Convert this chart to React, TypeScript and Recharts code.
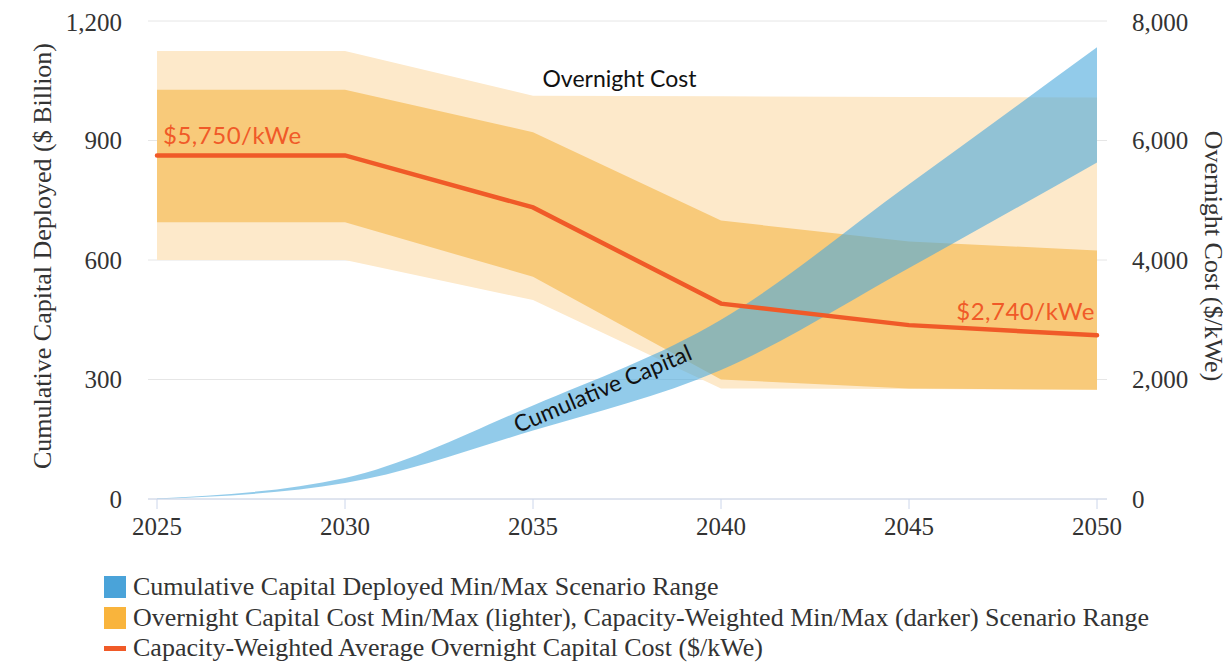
import { Area, CartesianGrid, ComposedChart, Legend, Line, ReferenceDot, XAxis, YAxis } from 'recharts';

const years = [2025, 2030, 2035, 2040, 2045, 2050];
// cumulative capital deployed, $ billion (left axis)
const capitalMin = [0, 40, 172, 324, 580, 845];
const capitalMax = [1, 53, 235, 450, 790, 1134];
// overnight cost, $/kWe (right axis)
const overnightMin = [4000, 4000, 3330, 1850, 1840, 1830];
const overnightMax = [7500, 7500, 6750, 6740, 6730, 6720];
const weightedMin = [4630, 4630, 3720, 2000, 1850, 1830];
const weightedMax = [6850, 6850, 6140, 4660, 4310, 4160];
const weightedAvg = [5750, 5750, 4880, 3270, 2910, 2740];

const capitalTicks = [0, 300, 600, 900, 1200];
const costTicks = [0, 2000, 4000, 6000, 8000];

const legendItems = [
  { label: 'Cumulative Capital Deployed Min/Max Scenario Range', color: '#4aa3d9', kind: 'box' },
  { label: 'Overnight Capital Cost Min/Max (lighter), Capacity-Weighted Min/Max (darker) Scenario Range', color: '#f9b43c', kind: 'box' },
  { label: 'Capacity-Weighted Average Overnight Capital Cost ($/kWe)', color: '#f05a28', kind: 'line' },
];

const data = years.map((year, i) => ({
  year,
  capital: [capitalMin[i], capitalMax[i]],
  overnight: [overnightMin[i], overnightMax[i]],
  weighted: [weightedMin[i], weightedMax[i]],
  avg: weightedAvg[i],
}));

const serif = '"Liberation Serif", "Times New Roman", serif';
const geo = 'Lato, "Noto Sans", sans-serif';
const fmt = (v: number) => v.toLocaleString('en-US');

const renderLegend = () => (
  <div style={{ height: 124, paddingTop: 33, boxSizing: 'border-box', fontFamily: serif, fontSize: 26, color: '#333' }}>
    {legendItems.map((item) => (
      <div key={item.label} style={{ display: 'flex', alignItems: 'center', height: 30.5, whiteSpace: 'nowrap' }}>
        <span
          style={{
            display: 'inline-block',
            width: 22,
            height: item.kind === 'box' ? 22 : 5,
            background: item.color,
            marginRight: 7,
          }}
        />
        {item.label}
      </div>
    ))}
  </div>
);

export default function App() {
  return (
    <div style={{ width: 1223, height: 655 }}>
      <ComposedChart width={1223} height={655} data={data} margin={{ top: 13, right: 0, bottom: 0, left: 0 }}>
        <CartesianGrid yAxisId="cap" vertical={false} stroke="#e6e6e6" />
        <XAxis
          dataKey="year"
          type="number"
          domain={[2025, 2050]}
          ticks={years}
          padding={{ left: 9, right: 10 }}
          height={40}
          stroke="#ccd6eb"
          tickSize={10}
          tickMargin={8}
          tick={{ fill: '#333', fontSize: 25, fontFamily: serif }}
        />
        <YAxis
          yAxisId="cap"
          domain={[0, 1200]}
          ticks={capitalTicks}
          width={140}
          axisLine={false}
          tickLine={false}
          tickSize={0}
          tickMargin={26}
          tickFormatter={fmt}
          tick={{ fill: '#333', fontSize: 25, fontFamily: serif }}
          label={{ value: 'Cumulative Capital Deployed ($ Billion)', angle: -90, position: 'center', dx: -36, dy: -4, fill: '#333', fontSize: 26, fontFamily: serif }}
        />
        <YAxis
          yAxisId="cost"
          orientation="right"
          domain={[0, 8000]}
          ticks={costTicks}
          width={124}
          axisLine={false}
          tickLine={false}
          tickSize={0}
          tickMargin={25}
          tickFormatter={fmt}
          tick={{ fill: '#333', fontSize: 25, fontFamily: serif, textAnchor: 'start' }}
          label={{ value: 'Overnight Cost ($/kWe)', angle: 90, position: 'center', dx: 45, dy: -4, fill: '#333', fontSize: 26, fontFamily: serif }}
        />
        <Area yAxisId="cost" dataKey="overnight" type="linear" fill="#fde9ca" fillOpacity={1} stroke="none" isAnimationActive={false} />
        <Area yAxisId="cost" dataKey="weighted" type="linear" fill="#f8ca7a" fillOpacity={1} stroke="none" isAnimationActive={false} />
        <Line yAxisId="cost" dataKey="avg" type="linear" stroke="#f05a28" strokeWidth={4.5} strokeLinecap="round" dot={false} isAnimationActive={false} />
        <Area yAxisId="cap" dataKey="capital" type="monotone" fill="#4aa8dc" fillOpacity={0.6} stroke="none" isAnimationActive={false} />
        <ReferenceDot
          yAxisId="cost"
          x={2025}
          y={5750}
          r={0}
          shape={(p: any) => (
            <text x={p.cx + 6} y={p.cy - 11} fill="#f05a28" fontSize={24} fontFamily={geo} letterSpacing={0.5}>$5,750/kWe</text>
          )}
        />
        <ReferenceDot
          yAxisId="cost"
          x={2050}
          y={2740}
          r={0}
          shape={(p: any) => (
            <text x={p.cx - 2} y={p.cy - 15} fill="#f05a28" fontSize={24} fontFamily={geo} letterSpacing={0.5} textAnchor="end">$2,740/kWe</text>
          )}
        />
        <ReferenceDot
          yAxisId="cost"
          x={2037.3}
          y={7046}
          r={0}
          shape={(p: any) => (
            <text x={p.cx} y={p.cy} fill="#111" fontSize={23} fontFamily={geo} textAnchor="middle" dominantBaseline="central">Overnight Cost</text>
          )}
        />
        <ReferenceDot
          yAxisId="cap"
          x={2036.84}
          y={279}
          r={0}
          shape={(p: any) => (
            <text x={p.cx} y={p.cy} fill="#111" fontSize={23} fontFamily={geo} textAnchor="middle" dominantBaseline="central" transform={`rotate(-23, ${p.cx}, ${p.cy})`}>Cumulative Capital</text>
          )}
        />
        <Legend verticalAlign="bottom" align="left" content={renderLegend} wrapperStyle={{ left: 96, width: 1120 }} />
      </ComposedChart>
    </div>
  );
}
